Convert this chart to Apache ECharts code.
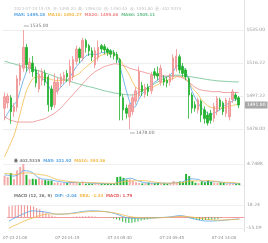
<!DOCTYPE html>
<html><head><meta charset="utf-8">
<script src="https://cdn.jsdelivr.net/npm/echarts/dist/echarts.min.js"></script>
<style>html,body{margin:0;padding:0;background:#fff}#c{width:268px;height:243px}</style>
</head><body><div id="c"></div>
<script>
const categories = ['07-23 20:30','07-23 20:45','07-23 21:00','07-23 21:15','07-23 21:30','07-23 21:45','07-23 22:00','07-23 22:15','07-23 22:30','07-23 22:45','07-23 23:00','07-23 23:15','07-23 23:30','07-23 23:45',
'07-24 00:00','07-24 00:15','07-24 00:30','07-24 00:45','07-24 01:00','07-24 01:15','07-24 01:30','07-24 01:45','07-24 02:00','07-24 02:15','07-24 02:30','07-24 02:45','07-24 03:00','07-24 03:15','07-24 03:30','07-24 03:45',
'07-24 04:00','07-24 04:15','07-24 04:30','07-24 04:45','07-24 05:00','07-24 05:15','07-24 05:30','07-24 05:45','07-24 06:00','07-24 06:15','07-24 06:30','07-24 06:45','07-24 07:00','07-24 07:15','07-24 07:30','07-24 07:45',
'07-24 08:00','07-24 08:15','07-24 08:30','07-24 08:45','07-24 09:00','07-24 09:15','07-24 09:30','07-24 09:45','07-24 10:00','07-24 10:15','07-24 10:30','07-24 10:45','07-24 11:00','07-24 11:15','07-24 11:30','07-24 11:45',
'07-24 12:00','07-24 12:15','07-24 12:30','07-24 12:45','07-24 13:00','07-24 13:15','07-24 13:30','07-24 13:45','07-24 14:00','07-24 14:15','07-24 14:30','07-24 14:45','07-24 15:00','07-24 15:15'];
const xLabelIndex = [2, 19, 36, 53, 70];

// [open, close, low, high]
const candles = [
[1490,1496.5,1483,1499],[1493,1497,1490,1498.5],[1496,1488,1481,1497.5],[1488,1491,1485,1493],[1490.5,1507,1488,1509],
[1506,1514,1503,1516],[1513,1525,1511,1535],[1525,1515,1511,1527],[1513,1516.5,1510,1519],[1516,1511,1508,1520],
[1512,1504.5,1502,1514],[1501,1509.5,1499,1512],[1506,1511,1503,1513],[1510,1505,1503,1512],[1508,1492,1488,1509],
[1501,1491,1489,1503],[1492,1505,1490,1510],[1500,1505,1498,1508],[1504,1508,1502,1510],[1506,1509,1504,1511],
[1510,1508,1505,1512],[1505,1514,1503,1518],[1508,1518,1506,1520],[1517,1524,1515,1526],[1524,1519,1516,1525],
[1519,1529,1517,1530.5],[1529,1525,1522,1530],[1526,1523,1520,1527],[1523,1519.5,1517,1525],[1515,1523,1513,1525],
[1519,1525,1517,1529],[1526,1524,1522,1527],[1525.5,1523.5,1521,1527],[1524,1522,1520,1525],[1523,1521,1519,1524],
[1522,1520,1518,1523.5],[1521,1518,1516,1522.5],[1518,1497,1483,1519],[1496,1489,1483,1498],[1490,1487,1484,1492],
[1485,1491.8,1478,1493],[1488,1496,1486,1498],[1494,1500,1492,1502],[1497,1511,1495,1514],[1503,1499.5,1497,1505],
[1498,1502,1496,1504],[1502,1499.5,1497,1504],[1500,1509,1498,1511],[1511,1509,1507,1513],[1510,1508.5,1506,1514],
[1505,1513,1503,1515],[1507,1505,1503,1509],[1506,1504.5,1502,1508],[1505,1508,1503,1510],[1508,1519,1506,1521],
[1513,1520,1511,1524],[1519.6,1512,1510,1521],[1514,1510,1508,1516],[1512,1508,1506,1513],[1507,1497.6,1484,1508],
[1497.6,1490,1487,1499],[1492,1490,1488,1494],[1489,1494.7,1487,1496],[1494,1486,1482,1495],[1489,1484,1481,1491],
[1486,1481.5,1480,1488],[1487,1483,1481,1489],[1484,1491,1482,1493],[1488,1495.6,1486,1497],[1494.7,1490.9,1489,1496],
[1493,1488,1486,1494],[1487,1494.7,1485,1496],[1485,1494,1483,1496],[1495,1499.5,1493,1501],[1497.6,1495.6,1494,1499],
[1496,1491.8,1490,1497]];

const ma5 = [1484,1487,1490,1492,1494,1500,1506,1511,1514,1513,1511,1509,1507,1506,1503,1500,1499,1500,1502,1504,1506,1508,1511,1514,1516,1518,1520,1521,1521,1521,1521,1522,1522,1523,1523,1522,1520,1514,1507,1500,1494,1490,1491,1495,1498,1500,1502,1503,1505,1506,1508,1508,1508,1509,1511,1514,1515,1514,1512,1506,1500,1496,1493,1490,1489,1487,1486,1487,1488,1489,1491,1492,1493,1494,1495,1495.18];
const ma10 = [1462,1466,1470,1474,1480,1487,1494,1500,1504,1507,1508,1508,1508,1507.5,1507,1506.5,1506,1506,1506,1506,1506,1507,1508,1509,1510,1512,1513.5,1515,1516.5,1518,1519.5,1520.5,1521,1521.5,1521.5,1521.5,1520,1518,1515,1512,1509,1505,1502,1501,1500.5,1500.5,1501,1501.5,1502.5,1503.5,1504.5,1505.5,1506,1506.5,1507,1508,1508.5,1508,1507,1505,1502,1500,1498,1495,1493,1491.5,1490.5,1490,1490,1490,1490,1490.5,1491,1491.5,1492,1492.27];
const ma20 = [1485,1484,1483,1482.5,1482,1482,1482,1482,1482,1482,1482.5,1483,1483.5,1484,1485,1486,1487,1488.5,1490,1492,1494,1496,1498,1500,1502,1504,1506,1508,1509.5,1511,1512,1513,1514,1514.5,1515,1515.5,1515.5,1515,1514.5,1514,1513,1512.5,1512,1511.5,1511,1510.5,1510,1509.5,1509,1509,1509,1508.5,1508.5,1508.5,1508.5,1508.5,1508,1507.5,1506.5,1505,1503.5,1502,1501,1500.5,1500,1500,1499.5,1499.5,1499.5,1499.5,1499,1499,1499,1499,1499,1499.06];
const ma60 = [1517,1516.5,1516,1515.5,1515,1514.5,1514,1513.5,1513,1512.5,1512,1511.5,1511,1510.3,1509.6,1509,1508.3,1507.6,1507,1506.5,1506,1505.4,1504.8,1504.3,1503.8,1503.3,1502.8,1502.4,1502,1501.5,1501,1500.5,1500,1499.6,1499.2,1498.8,1498.5,1498.2,1498,1497.8,1497.6,1497.6,1498,1499,1500,1501,1502,1503,1504,1505,1506,1507,1508,1508.5,1509,1509,1509,1508.8,1508.5,1508.2,1508,1507.7,1507.4,1507.1,1506.8,1506.5,1506.2,1506,1505.8,1505.6,1505.5,1505.4,1505.3,1505.2,1505.1,1505.11];

const volumes = [2100,1800,2700,1300,3300,4100,4748,2300,1300,1400,1300,1500,1200,1100,1000,1000,500,600,400,450,500,800,700,500,400,700,300,350,300,400,350,300,300,250,300,350,1800,1900,1600,1200,1300,900,600,450,350,400,500,450,400,500,350,400,300,450,900,650,800,700,2500,2000,900,500,400,800,600,1100,700,500,450,550,500,300,350,280,270,402.5319];
const volMa5 = [2300,2200,2100,2000,2200,2700,3300,3200,3100,2800,2100,1600,1350,1300,1250,1150,950,850,700,600,500,550,600,600,580,620,520,450,400,420,350,340,330,320,300,300,600,900,1200,1400,1550,1400,1100,850,650,500,460,430,420,450,440,420,390,400,480,540,600,700,1100,1330,1400,1320,1260,920,640,680,720,740,770,660,540,460,430,400,340,321.92];
const volMa10 = [2600,2550,2500,2400,2400,2500,2700,2750,2700,2600,2500,2400,2300,2200,2000,1700,1400,1200,1050,950,850,750,700,650,600,600,580,560,530,500,480,450,420,400,380,370,480,620,760,850,900,950,980,1000,1000,950,880,780,640,550,470,440,410,410,460,490,530,570,750,890,920,930,930,950,990,1000,950,880,730,620,610,590,580,570,460,393.36];

const dif = [-5,-2.5,0,2,4,6,8,9.5,9.8,9.4,9,8.6,8,7,6,5,4.8,5,5.3,5.6,6,6.7,7.4,8.1,8.8,9.4,9.7,9.8,9.7,9.5,9.2,8.8,8.2,7.4,6.4,5,3.4,1.5,0.2,-0.6,-1,-1.1,-1,-0.9,-0.8,-0.7,-0.6,-0.5,-0.3,-0.1,0.2,0.5,0.8,1.3,2,2.7,2.8,2.2,1.2,-0.5,-1.8,-2.8,-3.6,-4.5,-4.9,-5,-5,-4.8,-4.5,-4.2,-3.8,-3.3,-2.9,-2.5,-2.2,-2.04];
const dea = [-15,-13,-11,-9,-7,-5,-3.2,-1.6,-0.2,1.5,3,4.2,5,5.4,5.4,5.2,5,5,5.1,5.3,5.6,6,6.5,7.1,7.7,8.2,8.6,8.9,9,9,8.9,8.7,8.3,7.7,7,6.2,5.2,4,2.8,1.8,1,0.4,0,-0.3,-0.4,-0.5,-0.5,-0.5,-0.4,-0.3,-0.1,0.1,0.3,0.6,1,1.4,1.7,1.8,1.6,1.1,0.5,-0.2,-1,-1.7,-2.3,-2.8,-3.2,-3.5,-3.6,-3.6,-3.5,-3.3,-3,-2.8,-2.6,-2.4];
const macdHist = [16,17,17.5,18,18.24,18,17.5,17,16,14,12,9.5,7,5,3,1.5,0.6,0.5,0.6,0.6,0.8,1.2,1.4,1.6,1.8,2,2.2,1.8,1.4,1,0.6,0.2,-0.2,-0.6,-1.2,-2.4,-4,-6,-7.5,-8,-7.6,-6.6,-5.5,-4.4,-3.5,-2.6,-1.8,-1.2,-0.6,-0.2,0.4,0.8,1.2,1.6,2,2.4,2.2,1.4,0.4,-1,-2.2,-3,-3.4,-3.6,-3.6,-3.4,-3,-2.6,-2,-0.6,0.3,0.6,0.8,1,1,1];

const priceTicks = ['1478.00','1497.22','1516.22','1535.00'];
const volTicks = ['', '4.748K'];
const macdTicks = ['-15.09', '18.24'];

const infoLine = '2023-07-24 15:15  开: 1495.20  高: 1496.00  低: 1490.40  收: 1491.80  量: 402.5319';
const maLegend = ['MA5: 1495.18', 'MA10: 1492.27', 'MA20: 1499.06', 'MA60: 1505.11'];
const volLegend = ['量', '402.5319', 'MA5: 321.92', 'MA10: 393.36'];
const macdLegend = ['MACD (12, 26, 9)', 'DIF: -2.04', 'DEA: -1.33', 'MACD: 1.79'];

const UP = '#f6a9a9', UPB = '#ef8e8e', DOWN = '#22b12f';
const C5 = '#5ba6e6', C10 = '#f3bb4f', C20 = '#ee8c8c', C60 = '#6cc08e';
const FS = 4.5;

const chart = echarts.init(document.getElementById('c'), null, {renderer: 'canvas'});
const gridL = 3, gridR = 24;
const xBase = (i, showLabel) => ({
  type: 'category', gridIndex: i, data: categories, max: 76, boundaryGap: true,
  axisTick: {show: false},
  axisLine: {show: false},
  axisLabel: showLabel ? {show: true, fontSize: 4, color: '#888', margin: 8,
    interval: (idx) => xLabelIndex.indexOf(idx) >= 0} : {show: false},
  splitLine: {show: false}
});
const lineS = (name, data, color, xi, yi) => ({
  name, type: 'line', data, xAxisIndex: xi, yAxisIndex: yi, symbol: 'none', smooth: false,
  clip: false, lineStyle: {width: 0.8, color}, silent: true, z: 3
});

chart.setOption({
  animation: false,
  textStyle: {fontFamily: 'DejaVu Sans, sans-serif'},
  title: [
    {left: 9, top: 2, text: infoLine, textStyle: {fontSize: 4, color: '#c4c4c4', fontWeight: 'normal'}},
    {left: 9, top: 8, text: `{a|${maLegend[0]}}  {b|${maLegend[1]}}  {c|${maLegend[2]}}  {d|${maLegend[3]}}`,
      textStyle: {fontSize: 4, rich: {a: {fontSize: 4, color: C5}, b: {fontSize: 4, color: C10}, c: {fontSize: 4, color: C20}, d: {fontSize: 4, color: C60}}}},
    {left: 9, top: 154, text: `{z|${volLegend[0]}} {y|${volLegend[1]}}  {a|${volLegend[2]}}  {b|${volLegend[3]}}`,
      textStyle: {fontSize: 4, rich: {z: {fontSize: 4, color: '#666'}, y: {fontSize: 4, color: '#888'}, a: {fontSize: 4, color: C5}, b: {fontSize: 4, color: C10}}}},
    {left: 9, top: 189, text: `{y|${macdLegend[0]}}  {a|${macdLegend[1]}}  {b|${macdLegend[2]}}  {c|${macdLegend[3]}}`,
      textStyle: {fontSize: 4, rich: {y: {fontSize: 4, color: '#777'}, a: {fontSize: 4, color: C5}, b: {fontSize: 4, color: C10}, c: {fontSize: 4, color: '#e85a5a'}}}}
  ],
  graphic: [{type: 'line', shape: {x1: 244.5, y1: 0, x2: 244.5, y2: 232}, style: {stroke: '#e2e2e2', lineWidth: 1}, silent: true}],
  grid: [
    {left: gridL, right: gridR, top: 30, height: 99},
    {left: gridL, right: gridR, top: 164, height: 21},
    {left: gridL, right: gridR, top: 205, height: 23}
  ],
  xAxis: [
    xBase(0, false),
    xBase(1, false),
    Object.assign(xBase(2, true), {axisLine: {show: true, onZero: true, lineStyle: {color: '#f5a0a0', width: 1}}})
  ],
  yAxis: [
    {type: 'value', gridIndex: 0, position: 'right', min: 1478, max: 1535, interval: 19, scale: true,
      axisLine: {show: false}, axisTick: {show: false},
      axisLabel: {fontSize: FS, color: '#999', margin: 3, formatter: (v) => priceTicks[Math.round((v - 1478) / 19)]},
      splitLine: {lineStyle: {color: '#eeeeee', width: 1}}},
    {type: 'value', gridIndex: 1, position: 'right', min: 0, max: 4748, interval: 4748,
      axisLine: {show: false}, axisTick: {show: false},
      axisLabel: {fontSize: FS, color: '#999', margin: 3, formatter: (v) => volTicks[Math.round(v / 4748)]},
      splitLine: {lineStyle: {color: '#f0f0f0'}}},
    {type: 'value', gridIndex: 2, position: 'right', min: -15.09, max: 18.24, interval: 33.33,
      axisLine: {show: false}, axisTick: {show: false},
      axisLabel: {fontSize: FS, color: '#999', margin: 3, formatter: (v) => macdTicks[Math.round((v + 15.09) / 33.33)]},
      splitLine: {lineStyle: {color: '#f0f0f0'}}}
  ],
  series: [
    {type: 'candlestick', xAxisIndex: 0, yAxisIndex: 0, data: candles.map(d => [d[0], d[1], d[2], d[3]]), barWidth: '62%',
      itemStyle: {color: UP, color0: DOWN, borderColor: UPB, borderColor0: DOWN, borderWidth: 0.8}, z: 4,
      markPoint: {
        symbol: 'rect', symbolSize: [5, 0.6], symbolOffset: [3, -4],
        itemStyle: {color: '#777'},
        label: {show: true, position: 'right', distance: 1, fontSize: FS, color: '#777', formatter: (p) => p.value.toFixed(2)},
        data: [
          {type: 'max', valueDim: 'highest'},
          {type: 'min', valueDim: 'lowest', symbolOffset: [3, 4]}
        ]
      },
      markLine: {
        symbol: 'none', silent: true,
        lineStyle: {color: 'rgba(0,0,0,0)'},
        label: {show: true, position: 'end', distance: 1.5, fontSize: FS, color: '#fff', backgroundColor: '#a8a8a8', padding: [1, 2], formatter: (p) => p.value.toFixed(2)},
        data: [{yAxis: candles[candles.length - 1][1]}]
      }
    },
    lineS('MA5', ma5, C5, 0, 0),
    lineS('MA10', ma10, C10, 0, 0),
    lineS('MA20', ma20, C20, 0, 0),
    lineS('MA60', ma60, C60, 0, 0),
    {type: 'bar', xAxisIndex: 1, yAxisIndex: 1, data: volumes, barWidth: '62%',
      itemStyle: {color: (p) => candles[p.dataIndex][1] >= candles[p.dataIndex][0] ? UP : DOWN}},
    lineS('VMA5', volMa5, C5, 1, 1),
    lineS('VMA10', volMa10, C10, 1, 1),
    {type: 'bar', xAxisIndex: 2, yAxisIndex: 2, data: macdHist, barWidth: 1,
      itemStyle: {color: (p) => p.value >= 0 ? '#f08a8a' : '#2db53a'}},
    lineS('DIF', dif, C5, 2, 2),
    lineS('DEA', dea, C10, 2, 2)
  ]
});
</script></body></html>
